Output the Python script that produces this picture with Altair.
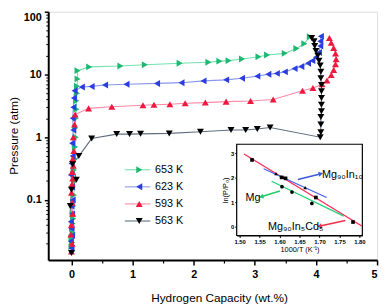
import math
import altair as alt
import pandas as pd

# ---------------- main PCT isotherms ----------------
series_names = ["653 K", "623 K", "593 K", "563 K"]
marker_colors = ["#1fb873", "#2a3de0", "#f0173f", "#000000"]
line_colors = ["#74e2ae", "#8a98ec", "#ff8aa6", "#5f6f80"]
marker_shapes = ["triangle-right", "triangle-left", "triangle-up", "triangle-down"]

k653_x = [0.0, 0.01, 0.0, 0.02, 0.01, 0.02, 0.03, 0.02, 0.03, 0.04, 0.05, 0.04, 0.05, 0.06,
          0.07, 0.06, 0.07, 0.08, 0.08, 0.09, 0.09, 0.1, 0.1, 0.29, 0.8, 1.2, 1.77, 2.24, 2.42,
          2.57, 2.79, 3.06, 3.2, 3.49, 3.68, 3.81, 3.9]
k653_p = [0.018, 0.021, 0.025, 0.03, 0.035, 0.042, 0.05, 0.06, 0.08, 0.12, 0.2, 0.3, 0.45, 0.7,
          1.0, 1.4, 2.0, 2.8, 3.8, 5.0, 6.5, 8.5, 11.5, 13.2, 13.6, 14.3, 15.1, 15.7, 16.3,
          16.6, 17.6, 19.2, 20.4, 21.7, 26.0, 31.0, 40.0]

k623_x = [0.0, -0.01, 0.01, 0.0, -0.01, 0.01, 0.0, 0.02, 0.01, -0.01, 0.0, 0.02, 0.01, 0.03,
          0.02, 0.03, 0.04, 0.05, 0.17, 0.33, 0.55, 0.9, 1.4, 1.8, 2.16, 2.53, 2.79, 3.04, 3.22,
          3.36, 3.49, 3.65, 3.76, 3.87, 3.94, 4.0, 4.05, 4.07, 4.07, 4.08]
k623_p = [0.017, 0.022, 0.027, 0.035, 0.045, 0.06, 0.08, 0.1, 0.16, 0.25, 0.38, 0.5, 0.8, 1.3,
          2.0, 3.0, 4.2, 5.5, 6.3, 6.45, 6.8, 7.0, 7.2, 7.4, 7.9, 8.2, 8.7, 9.4, 10.1,
          10.4, 11.0, 12.4, 13.4, 15.1, 16.6, 18.8, 22.4, 28.3, 33.9, 40.5]

k593_x = [0.0, 0.01, -0.01, 0.0, 0.02, 0.01, 0.0, 0.01, 0.02, 0.01, 0.03, 0.02, 0.04, 0.03,
          0.05, 0.06, 0.28, 0.66, 1.17, 1.35, 1.61, 1.86, 2.19, 2.53, 2.93, 3.3, 3.78, 3.95,
          4.1, 4.18, 4.25, 4.29, 4.32, 4.33, 4.32, 4.29, 4.25, 4.22]
k593_p = [0.015, 0.02, 0.028, 0.04, 0.06, 0.09, 0.13, 0.18, 0.22, 0.28, 0.35, 0.45, 0.6, 1.0,
          1.6, 2.3, 2.88, 3.06, 3.24, 3.28, 3.36, 3.47, 3.56, 3.69, 3.78, 4.0, 5.5, 6.1,
          7.0, 8.0, 9.8, 11.8, 14.5, 17.5, 21.5, 26.5, 32.0, 38.0]

k563_x = [0.0, -0.02, 0.0, 0.08, 0.02, 0.12, 0.33, 0.74, 0.95, 1.13, 1.6, 2.11, 2.61, 2.85,
          3.04, 3.25, 4.07, 4.08, 4.08, 4.08, 4.09, 4.09, 4.09, 4.09, 4.09, 4.08, 4.08, 4.07,
          4.05, 4.03, 4.0, 3.98, 3.97, 3.93]
k563_p = [0.0143, 0.08, 0.145, 0.21, 0.37, 0.5, 0.95, 1.12, 1.12, 1.13, 1.15, 1.22, 1.3, 1.3,
          1.35, 1.43, 1.0, 1.2, 1.6, 2.1, 2.6, 3.3, 4.2, 5.4, 6.8, 8.7, 11.0, 13.9,
          16.6, 19.9, 23.7, 28.3, 33.9, 38.0]

x_ticks = [0, 1, 2, 3, 4, 5]
x_minor = [0.5, 1.5, 2.5, 3.5, 4.5]
y_ticks = [0.1, 1, 10, 100]
y_minor = [k * 10 ** e for e in (-2, -1, 0, 1) for k in range(2, 10)]

# ---------------- inset (van't Hoff) ----------------
inset_keys = ["MgInCd", "MgIn", "Mg"]
inset_labels = ["Mg₉₀In₅Cd₅", "Mg₉₀In₁₀", "Mg"]
inset_line_colors = ["#ff2a55", "#4863e6", "#22d27a"]
inset_shapes = ["square", "triangle-up", "circle"]

fit_x = [[1.511, 1.806], [1.560, 1.718], [1.580, 1.761]]
fit_y = [[2.97, 0.04], [2.37, 1.20], [1.86, 0.44]]
pts_x = [[1.531, 1.605, 1.615, 1.691, 1.784], [1.591, 1.609, 1.664], [1.606, 1.631, 1.681]]
pts_y = [[2.73, 2.02, 1.98, 1.20, 0.20], [2.17, 2.02, 1.60], [1.64, 1.42, 0.96]]
inset_x_ticks = [1.50, 1.55, 1.60, 1.65, 1.70, 1.75, 1.80]
inset_y_ticks = [0, 1, 2, 3]

FONT = "Liberation Sans"
W, H = 335, 253

rows = []
for name, xs, ps in zip(series_names, [k653_x, k623_x, k593_x, k563_x],
                        [k653_p, k623_p, k593_p, k563_p]):
    for i, (xv, pv) in enumerate(zip(xs, ps)):
        rows.append({"series": name, "x": xv, "p": pv, "i": i})
df = pd.DataFrame(rows)

x_scale = alt.Scale(domain=[-0.38, 5], nice=False, zero=False)
y_scale = alt.Scale(type="log", domain=[0.011, 100], nice=False)

lines = alt.Chart(df).mark_line(strokeWidth=1.1).encode(
    x=alt.X("x:Q", scale=x_scale, axis=alt.Axis(
        orient="bottom", values=x_minor, labels=False, domain=False, tickSize=3,
        tickWidth=1.2, tickColor="black", title=None, grid=False)),
    y=alt.Y("p:Q", scale=y_scale, axis=alt.Axis(
        orient="left", values=y_minor, labels=False, domain=False, tickSize=2.5,
        tickWidth=1, tickColor="black", title=None, grid=False)),
    color=alt.Color("series:N", scale=alt.Scale(domain=series_names, range=line_colors), legend=None),
    detail="series:N",
    order="i:Q",
)

points = alt.Chart(df).mark_point(filled=True, opacity=1, size=50, strokeWidth=0).encode(
    x=alt.X("x:Q", scale=x_scale, axis=alt.Axis(
        orient="bottom", values=x_ticks, format="d", labelFont=FONT, labelFontSize=11,
        labelFontWeight="bold", labelColor="black", labelPadding=4, tickSize=5, tickWidth=1.5,
        tickColor="black", domainColor="black", domainWidth=2, grid=False,
        title="Hydrogen Capacity (wt.%)", titleFont=FONT, titleFontSize=12,
        titleFontWeight="normal", titleColor="black", titleX=174, titleY=38,
        titleAlign="center", titleBaseline="middle")),
    y=alt.Y("p:Q", scale=y_scale, axis=alt.Axis(
        orient="left", values=y_ticks, format="~g", labelFont=FONT, labelFontSize=11,
        labelFontWeight="bold", labelColor="black", labelPadding=3, labelFlush=True,
        tickSize=4, tickWidth=1.5, tickColor="black", domainColor="black", domainWidth=2,
        grid=False, title="Pressure (atm)", titleFont=FONT, titleFontSize=12,
        titleFontWeight="normal", titleColor="black", titleX=-35, titleY=126,
        titleAngle=270, titleAlign="center", titleBaseline="middle")),
    color=alt.Color("series:N", scale=alt.Scale(domain=series_names, range=marker_colors), legend=None),
    shape=alt.Shape("series:N", scale=alt.Scale(domain=series_names, range=marker_shapes), legend=None),
)

one = pd.DataFrame({"a": [0]})

# inset geometry (pixels within the plot area)
IX0, IX1, IY0, IY1 = 192, 320, 135, 228
box = alt.Chart(one).mark_rect(fill="white", stroke="black", strokeWidth=1.2).encode(
    x=alt.value(IX0), x2=alt.value(IX1), y=alt.value(IY0), y2=alt.value(IY1))

lrows, prows = [], []
for k, fx, fy, px, py in zip(inset_keys, fit_x, fit_y, pts_x, pts_y):
    for a, b in zip(fx, fy):
        lrows.append({"k": k, "x": a, "y": b})
    for a, b in zip(px, py):
        prows.append({"k": k, "x": a, "y": b})
ldf, pdf = pd.DataFrame(lrows), pd.DataFrame(prows)

ix_scale = alt.Scale(domain=[1.4926, 1.8074], range=[IX0, IX1], nice=False, zero=False)
iy_scale = alt.Scale(domain=[-0.35, 3.37], range=[IY1, IY0], nice=False, zero=False)

inset_lines = alt.Chart(ldf).mark_line(strokeWidth=1.3).encode(
    x=alt.X("x:Q", scale=ix_scale, axis=alt.Axis(
        orient="bottom", offset=IY1 - H, values=inset_x_ticks, format=".2f",
        labelFont=FONT, labelFontSize=6, labelFontWeight="bold", labelColor="black",
        labelPadding=1, tickSize=2, tickColor="black", domainColor="black", domainWidth=1.2,
        grid=False, title="1000/T (K⁻¹)", titleFont=FONT, titleFontSize=7.5,
        titleFontWeight="normal", titleColor="black", titlePadding=1)),
    y=alt.Y("y:Q", scale=iy_scale, axis=alt.Axis(
        orient="left", offset=-IX0, values=inset_y_ticks, format="d",
        labelFont=FONT, labelFontSize=6, labelFontWeight="bold", labelColor="black",
        labelPadding=1, tickSize=2, tickColor="black", domainColor="black", domainWidth=1.2,
        grid=False, title="ln(P/P₀)", titleFont=FONT, titleFontSize=7.5,
        titleFontWeight="normal", titleColor="black", titlePadding=1)),
    color=alt.Color("k:N", scale=alt.Scale(domain=inset_keys, range=inset_line_colors), legend=None),
    detail="k:N",
)

inset_pts = alt.Chart(pdf).mark_point(filled=True, opacity=1, size=14, color="black").encode(
    x=alt.X("x:Q", scale=ix_scale, axis=None),
    y=alt.Y("y:Q", scale=iy_scale, axis=None),
    shape=alt.Shape("k:N", scale=alt.Scale(domain=inset_keys, range=inset_shapes), legend=None),
)

# arrows + labels inside inset
arrows = [
    ((254.3, 171.0), (277.0, 165.3), "#3b5bdb"),
    ((236.0, 182.7), (217.7, 188.3), "#22cc66"),
    ((302.7, 212.7), (277.0, 218.3), "#f0304a"),
]
label_pos = [(224, 219), (279, 166), (201, 190)]

extra = []
for (p1, p2, col) in arrows:
    ang = math.degrees(math.atan2(p2[0] - p1[0], -(p2[1] - p1[1]))) % 360
    extra.append(alt.Chart(one).mark_rule(color=col, strokeWidth=1.5).encode(
        x=alt.value(p1[0]), y=alt.value(p1[1]), x2=alt.value(p2[0]), y2=alt.value(p2[1])))
    extra.append(alt.Chart(one).mark_point(shape="triangle", filled=True, opacity=1, color=col,
                                           size=28, angle=ang, strokeWidth=0).encode(
        x=alt.value(p2[0]), y=alt.value(p2[1])))
for lab, (lx, ly) in zip(inset_labels, label_pos):
    extra.append(alt.Chart(one).mark_text(align="left", baseline="middle", font=FONT,
                                          fontSize=11, color="black").encode(
        x=alt.value(lx), y=alt.value(ly), text=alt.value(lab)))

# legend
LX0, LX1, LXM, LXT, LY0, LDY = 78, 104, 92.7, 108.7, 161, 17.4
for i, name in enumerate(series_names):
    yy = LY0 + i * LDY
    extra.append(alt.Chart(one).mark_rule(color=line_colors[i], strokeWidth=1.1).encode(
        x=alt.value(LX0), x2=alt.value(LX1), y=alt.value(yy)))
    extra.append(alt.Chart(one).mark_point(shape=marker_shapes[i], filled=True, opacity=1,
                                           size=50, strokeWidth=0, color=marker_colors[i]).encode(
        x=alt.value(LXM), y=alt.value(yy)))
    extra.append(alt.Chart(one).mark_text(align="left", baseline="middle", font=FONT,
                                          fontSize=11, color="black").encode(
        x=alt.value(LXT), y=alt.value(yy), text=alt.value(name)))

chart = alt.layer(lines, points, box, inset_lines, inset_pts, *extra).resolve_scale(
    x="independent", y="independent", color="independent", shape="independent"
).resolve_axis(x="independent", y="independent").properties(
    width=W, height=H,
    autosize=alt.AutoSizeParams(type="none"),
    padding={"left": 41, "top": 1, "right": 4, "bottom": 44},
).configure_view(stroke="black", strokeWidth=2).configure(background="white")

chart.save("out.html", embed_options={"renderer": "svg", "actions": False})
